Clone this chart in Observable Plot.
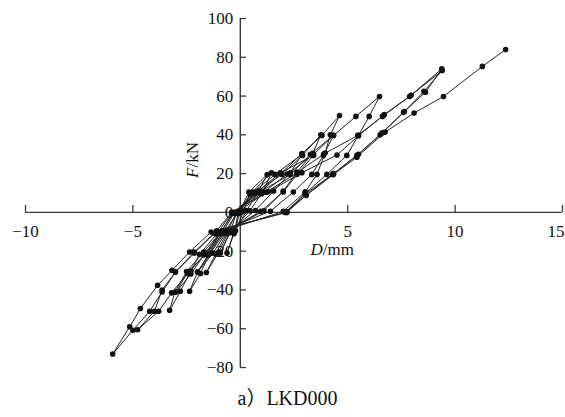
<!DOCTYPE html>
<html><head><meta charset="utf-8">
<script src="https://cdn.jsdelivr.net/npm/d3@7"></script>
<script src="https://cdn.jsdelivr.net/npm/@observablehq/plot@0.6"></script>
<style>
body{margin:0;background:#fff;}
#cap{width:565px;height:39px;line-height:40px;text-align:center;font-family:"Liberation Serif","Times New Roman","Noto Sans CJK SC",serif;font-size:20px;color:#111;padding-left:10px;box-sizing:border-box;}
</style></head><body>
<div id="chart"></div>
<div id="cap">a）LKD000</div>
<script>
// Load history: [D (mm), F (kN)] per cycle
const cycle1 = [[0,0],[0.45,9.5],[0.15,0.5],[-0.22,-9.5],[-0.05,0]];
const cycle2 = [[0.4,10.5],[1.25,19.5],[0.85,11],[0.3,1],[-0.3,-10.5],[-0.62,-21],[-0.3,-11],[-0.1,-0.5]];
const cycle3 = [[0.5,9.8],[1.45,20.4],[1.05,10.8],[0.45,0.8],[-0.45,-9.8],[-0.93,-21],[-0.5,-10.5],[-0.15,0.3]];
const cycle4 = [[0.62,10.5],[1.62,19.6],[2.87,29.9],[2.33,20.4],[1.55,11],[0.7,1],[-0.55,-10],[-1.0,-20.5],[-1.58,-31],[-1.15,-21.5],[-0.65,-11],[-0.2,-0.5]];
const cycle5 = [[0.7,9.8],[1.86,20.4],[3.41,29.4],[2.64,19.6],[2.0,10.5],[0.95,0.5],[-0.62,-9.5],[-1.27,-21],[-1.99,-30.8],[-1.5,-22],[-0.93,-10.5],[-0.3,0]];
const cycle6 = [[0.78,10.8],[1.94,19.6],[2.9,29.4],[3.75,40],[3.38,30.5],[2.64,20.8],[2.0,11],[1.1,0.8],[-0.7,-10],[-1.4,-21],[-1.99,-30.8],[-2.36,-40.7],[-1.85,-31.5],[-1.45,-21.5],[-0.85,-10.8],[-0.3,-0.5]];
const cycle7 = [[0.85,10.2],[2.33,19.6],[3.26,29.9],[4.34,39.7],[3.87,29.4],[3.33,19.6],[2.47,10.5],[1.4,0.6],[-0.85,-9.5],[-1.58,-21],[-2.45,-30.8],[-2.98,-41],[-2.3,-31.8],[-1.7,-22],[-0.95,-11],[-0.35,-0.3]];
const cycle8 = [[0.95,10.6],[1.9,20.2],[2.87,30.3],[3.8,39.7],[4.62,50],[4.19,40],[3.95,30.6],[3.57,19.6],[3.02,10.6],[2.0,0.5],[-0.9,-10],[-1.7,-20.4],[-2.5,-30.5],[-3.05,-41.2],[-3.29,-50.5],[-2.79,-40.7],[-2.3,-30.2],[-1.9,-21.6],[-1.1,-11.2],[-0.4,-0.4]];
const cycle9 = [[1.0,9.6],[2.2,19.8],[3.41,29.9],[4.34,39.7],[5.38,49.5],[6.48,59.8],[6.0,49.5],[5.5,39.7],[4.96,29.4],[4.03,19.6],[3.02,9.8],[2.17,0.2],[-1.1,-9.5],[-2.14,-20.4],[-3.02,-30.8],[-3.64,-40],[-4.0,-51],[-4.78,-60.5],[-3.8,-51],[-3.2,-41.5],[-2.45,-31.5],[-1.58,-21],[-0.75,-10.5],[-0.1,0.3]];
const cycle10 = [[1.2,10.4],[2.64,20.4],[3.9,30.2],[5.47,39.7],[6.62,49.5],[7.88,59.8],[9.38,74],[8.62,62],[7.64,52],[6.51,40],[5.43,29.4],[4.34,20],[3.07,9],[2.17,0],[-1.36,-10.1],[-2.36,-20.4],[-3.18,-29.9],[-3.85,-37.6],[-4.65,-49.6],[-5.15,-59],[-5.94,-73],[-5.0,-60.8],[-4.22,-51],[-3.64,-41],[-3.02,-30.8],[-2.14,-21],[-1.2,-10.8],[-0.4,0]];
const cycle11 = [[1.3,10.6],[2.87,20.5],[4.5,29.6],[5.5,39.5],[6.7,50.4],[7.95,60.4],[9.4,73.2],[8.55,62.4],[7.6,51.6],[6.6,41],[5.5,30],[4.3,19.6],[3.02,9.5],[2.09,0]];
const finalLoading = [[3.07,8.8],[4.34,19.6],[5.43,28.5],[6.74,41.4],[8.09,51.2],[9.46,59.8],[11.27,75.3],[12.35,84]];

const xTicks = [-10, -5, 0, 5, 10, 15];
const xTickLabels = ["\u221210", "\u22125", "", "5", "10", "15"];
const yTicks = [-80, -60, -40, -20, 0, 20, 40, 60, 80, 100];
const yTickLabels = ["\u221280", "\u221260", "\u221240", "\u221220", "0", "20", "40", "60", "80", "100"];
const xTitle = "D/mm";
const yTitle = "F/kN";

const history = [cycle1, cycle2, cycle3, cycle4, cycle5, cycle6, cycle7, cycle8, cycle9, cycle10, cycle11, finalLoading]
  .flat().map(([D, F]) => ({D, F}));
const xLab = xTicks.map((v, i) => ({v, t: xTickLabels[i]})).filter(d => d.t !== "");
const xLabInner = xLab.slice(0, -1);
const xLabLast = xLab.slice(-1);
const yLab = yTicks.map((v, i) => ({v, t: yTickLabels[i]}));

const font = "'Liberation Serif', 'Times New Roman', Times, serif";
const axisColor = "#3a3a3a";

const chart = Plot.plot({
  width: 565, height: 378,
  marginLeft: 25, marginRight: 3, marginTop: 18, marginBottom: 11,
  x: {domain: [-10, 15], axis: null},
  y: {domain: [-80, 100], axis: null},
  style: {background: "#fff", fontFamily: font},
  marks: [
    Plot.ruleY([0], {x1: -10, x2: 15, stroke: axisColor, strokeWidth: 1.4}),
    Plot.ruleX([0], {y1: -80, y2: 100, stroke: axisColor, strokeWidth: 1.4}),
    Plot.ruleX(xTicks, {x: d => d, y1: 0, y2: 3.6, stroke: axisColor, strokeWidth: 1.3}),
    Plot.ruleY(yTicks, {y: d => d, x1: 0, x2: 0.29, stroke: axisColor, strokeWidth: 1.3}),
    Plot.text(xLabInner, {x: "v", y: 0, text: "t", dy: 19, fontSize: 17, fontFamily: font, fill: "#111"}),
    Plot.text(xLabLast, {x: "v", y: 0, text: "t", dy: 19, dx: 2, textAnchor: "end", fontSize: 17, fontFamily: font, fill: "#111"}),
    Plot.text(yLab, {x: 0, y: "v", text: "t", dx: -7, textAnchor: "end", fontSize: 17, fontFamily: font, fill: "#111"}),
    Plot.text([yTitle], {x: -2.2, y: 27, text: d => d, rotate: -90, fontSize: 17, fontFamily: font, fill: "#111"}),
    Plot.text([xTitle], {x: 4.28, y: -19, text: d => d, fontSize: 17, fontFamily: font, fill: "#111"}),
    Plot.line(history, {x: "D", y: "F", stroke: "#222", strokeWidth: 1}),
    Plot.dot(history, {x: "D", y: "F", r: 2.8, fill: "#111", stroke: "none"})
  ]
});
chart.querySelectorAll("text").forEach(t => {
  const s = t.textContent;
  if (s === yTitle || s === xTitle) {
    const first = s[0], rest = s.slice(1);
    t.textContent = "";
    const a = document.createElementNS("http://www.w3.org/2000/svg", "tspan");
    a.setAttribute("font-style", "italic");
    a.textContent = first;
    const b = document.createElementNS("http://www.w3.org/2000/svg", "tspan");
    b.textContent = rest;
    t.appendChild(a); t.appendChild(b);
  }
});
document.getElementById("chart").appendChild(chart);
</script>
</body></html>
